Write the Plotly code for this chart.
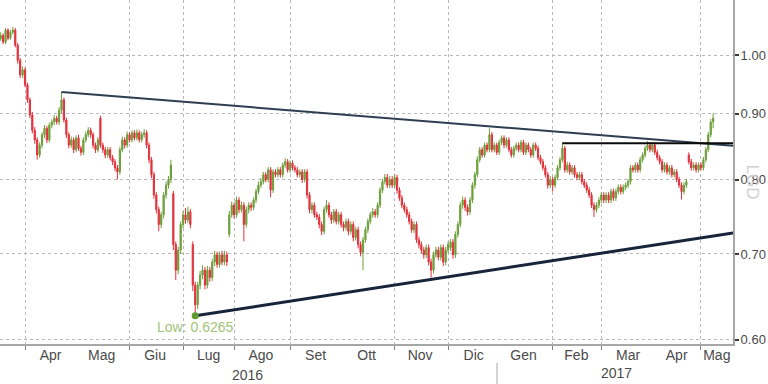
import numpy as np
import pandas as pd
import plotly.graph_objects as go

# ---------------- data ----------------
START = "2016-03-16"
HOLIDAYS = ["2016-03-25", "2016-03-28", "2016-12-26", "2017-04-14", "2017-04-17"]

close_ = [
    1.036, 1.024, 1.046, 1.031, 1.042, 1.046, 1.018, 0.991, 0.965, 0.974,
    0.948, 0.923, 0.898, 0.874, 0.859, 0.836, 0.851, 0.867, 0.877, 0.859,
    0.882, 0.887, 0.893, 0.887, 0.906, 0.923, 0.890, 0.867, 0.851, 0.859,
    0.844, 0.862, 0.846, 0.840, 0.859, 0.867, 0.874, 0.867, 0.851,
    0.844, 0.859, 0.851, 0.844, 0.836, 0.844, 0.832, 0.826, 0.817, 0.811,
    0.844, 0.859, 0.851, 0.867, 0.859, 0.870, 0.862, 0.870, 0.859, 0.867,
    0.870, 0.851, 0.829, 0.807, 0.778, 0.758, 0.738, 0.751, 0.778, 0.792,
    0.800, 0.821, 0.712, 0.680, 0.705, 0.738, 0.751, 0.744, 0.755, 0.738,
    0.662, 0.639, 0.662, 0.674, 0.680, 0.662, 0.680, 0.671, 0.690, 0.699,
    0.687, 0.699, 0.690, 0.699, 0.690, 0.751, 0.764, 0.751, 0.771, 0.758,
    0.764, 0.738, 0.758, 0.764, 0.761, 0.771, 0.783, 0.792, 0.797, 0.807,
    0.800, 0.814, 0.785, 0.811, 0.807, 0.814, 0.807, 0.821, 0.826,
    0.814, 0.824, 0.817, 0.814, 0.807, 0.811, 0.800, 0.811, 0.778, 0.758,
    0.764, 0.751, 0.748, 0.738, 0.729, 0.758, 0.764, 0.751, 0.744, 0.755,
    0.742, 0.751, 0.738, 0.734, 0.742, 0.729, 0.738, 0.721, 0.731, 0.712,
    0.702, 0.718, 0.731, 0.742, 0.751, 0.755, 0.751, 0.764, 0.785, 0.797,
    0.803, 0.792, 0.800, 0.792, 0.803, 0.785, 0.774, 0.764, 0.758, 0.751,
    0.742, 0.731, 0.738, 0.718, 0.712, 0.705, 0.699, 0.708, 0.690, 0.680,
    0.699, 0.705, 0.696, 0.708, 0.690, 0.705, 0.712, 0.715, 0.699,
    0.725, 0.738, 0.764, 0.771, 0.761, 0.755, 0.771, 0.792, 0.807, 0.829,
    0.844, 0.836, 0.851, 0.844, 0.867, 0.844, 0.851, 0.840, 0.855, 0.862,
    0.851, 0.859, 0.844, 0.836, 0.846, 0.851, 0.844, 0.855, 0.840, 0.851,
    0.844, 0.836, 0.851, 0.846, 0.832, 0.826, 0.817, 0.807, 0.792, 0.800,
    0.792, 0.803, 0.817, 0.829, 0.846, 0.814, 0.821, 0.811, 0.817, 0.807,
    0.803, 0.807, 0.797, 0.792, 0.785, 0.778, 0.764, 0.758, 0.764, 0.771,
    0.778, 0.771, 0.778, 0.771, 0.783, 0.774, 0.783, 0.789, 0.783, 0.789,
    0.792, 0.797, 0.817, 0.814, 0.821, 0.814, 0.829, 0.836, 0.846,
    0.851, 0.844, 0.851, 0.840, 0.832, 0.826, 0.814, 0.821, 0.811, 0.817,
    0.807, 0.811, 0.800, 0.792, 0.783, 0.792, 0.797, 0.826, 0.817, 0.821,
    0.814, 0.821, 0.817, 0.829, 0.844, 0.867, 0.887, 0.893,
]

open_ = [
    1.030, 1.036, 1.024, 1.046, 1.031, 1.042, 1.046, 1.018, 0.991, 0.965,
    0.974, 0.948, 0.923, 0.898, 0.874, 0.859, 0.836, 0.851, 0.867, 0.877,
    0.859, 0.882, 0.887, 0.893, 0.887, 0.906, 0.923, 0.890, 0.867, 0.851,
    0.859, 0.844, 0.862, 0.846, 0.840, 0.859, 0.867, 0.874, 0.867,
    0.851, 0.844, 0.893, 0.851, 0.844, 0.836, 0.844, 0.832, 0.826, 0.817,
    0.811, 0.844, 0.859, 0.851, 0.867, 0.859, 0.870, 0.862, 0.870, 0.859,
    0.867, 0.870, 0.851, 0.829, 0.807, 0.778, 0.758, 0.738, 0.751, 0.778,
    0.792, 0.800, 0.780, 0.712, 0.680, 0.705, 0.738, 0.751, 0.744, 0.755,
    0.712, 0.662, 0.639, 0.662, 0.674, 0.680, 0.662, 0.680, 0.671, 0.690,
    0.699, 0.687, 0.699, 0.690, 0.699, 0.725, 0.751, 0.764, 0.751, 0.771,
    0.758, 0.764, 0.738, 0.758, 0.764, 0.761, 0.771, 0.783, 0.792, 0.797,
    0.807, 0.800, 0.814, 0.785, 0.811, 0.807, 0.814, 0.807, 0.821,
    0.826, 0.814, 0.824, 0.817, 0.814, 0.807, 0.811, 0.800, 0.811, 0.778,
    0.758, 0.764, 0.751, 0.748, 0.738, 0.729, 0.758, 0.764, 0.751, 0.744,
    0.755, 0.742, 0.751, 0.738, 0.734, 0.742, 0.729, 0.738, 0.721, 0.731,
    0.712, 0.702, 0.718, 0.731, 0.742, 0.751, 0.755, 0.751, 0.764, 0.785,
    0.797, 0.803, 0.792, 0.800, 0.792, 0.803, 0.785, 0.774, 0.764, 0.758,
    0.751, 0.742, 0.731, 0.738, 0.718, 0.712, 0.705, 0.699, 0.708, 0.690,
    0.680, 0.699, 0.705, 0.696, 0.708, 0.690, 0.705, 0.708, 0.715,
    0.699, 0.725, 0.738, 0.764, 0.771, 0.761, 0.755, 0.771, 0.792, 0.807,
    0.829, 0.844, 0.836, 0.851, 0.844, 0.867, 0.844, 0.851, 0.840, 0.855,
    0.862, 0.851, 0.859, 0.844, 0.836, 0.846, 0.851, 0.844, 0.855, 0.840,
    0.851, 0.844, 0.836, 0.851, 0.846, 0.832, 0.826, 0.817, 0.807, 0.792,
    0.800, 0.792, 0.803, 0.817, 0.829, 0.846, 0.814, 0.821, 0.811, 0.817,
    0.807, 0.803, 0.807, 0.797, 0.792, 0.785, 0.778, 0.764, 0.758, 0.764,
    0.771, 0.778, 0.771, 0.778, 0.771, 0.783, 0.774, 0.783, 0.789, 0.783,
    0.789, 0.792, 0.797, 0.817, 0.814, 0.821, 0.814, 0.829, 0.836,
    0.846, 0.851, 0.844, 0.851, 0.840, 0.832, 0.826, 0.814, 0.821, 0.811,
    0.817, 0.807, 0.811, 0.800, 0.792, 0.783, 0.792, 0.836, 0.826, 0.817,
    0.821, 0.814, 0.821, 0.817, 0.829, 0.844, 0.867, 0.887,
]

high_ = [
    1.042, 1.040, 1.050, 1.049, 1.046, 1.052, 1.050, 1.022, 0.995, 0.980,
    0.978, 0.952, 0.927, 0.903, 0.879, 0.863, 0.855, 0.871, 0.882, 0.881,
    0.886, 0.891, 0.898, 0.897, 0.911, 0.936, 0.927, 0.894, 0.871, 0.864,
    0.863, 0.866, 0.867, 0.850, 0.863, 0.872, 0.879, 0.878, 0.871,
    0.855, 0.863, 0.897, 0.855, 0.848, 0.848, 0.848, 0.836, 0.830, 0.821,
    0.848, 0.864, 0.863, 0.872, 0.871, 0.874, 0.874, 0.875, 0.874, 0.872,
    0.876, 0.874, 0.855, 0.833, 0.811, 0.782, 0.762, 0.755, 0.782, 0.797,
    0.805, 0.829, 0.784, 0.716, 0.709, 0.742, 0.756, 0.760, 0.762, 0.759,
    0.716, 0.666, 0.666, 0.679, 0.686, 0.684, 0.685, 0.684, 0.694, 0.704,
    0.703, 0.703, 0.704, 0.704, 0.703, 0.756, 0.769, 0.768, 0.776, 0.775,
    0.769, 0.768, 0.762, 0.768, 0.768, 0.775, 0.787, 0.797, 0.802, 0.811,
    0.811, 0.818, 0.818, 0.815, 0.815, 0.818, 0.818, 0.825, 0.831,
    0.830, 0.828, 0.828, 0.821, 0.818, 0.815, 0.815, 0.815, 0.815, 0.782,
    0.768, 0.768, 0.755, 0.752, 0.742, 0.762, 0.771, 0.768, 0.755, 0.759,
    0.759, 0.755, 0.755, 0.742, 0.746, 0.746, 0.742, 0.742, 0.735, 0.735,
    0.716, 0.722, 0.735, 0.746, 0.755, 0.760, 0.759, 0.768, 0.789, 0.801,
    0.808, 0.808, 0.805, 0.805, 0.808, 0.807, 0.789, 0.778, 0.768, 0.762,
    0.755, 0.746, 0.742, 0.742, 0.722, 0.716, 0.709, 0.712, 0.712, 0.694,
    0.703, 0.709, 0.709, 0.712, 0.712, 0.709, 0.716, 0.719, 0.719,
    0.729, 0.742, 0.768, 0.776, 0.775, 0.765, 0.775, 0.796, 0.811, 0.834,
    0.848, 0.848, 0.855, 0.855, 0.877, 0.871, 0.855, 0.855, 0.859, 0.866,
    0.866, 0.863, 0.863, 0.848, 0.850, 0.855, 0.855, 0.859, 0.859, 0.855,
    0.855, 0.848, 0.855, 0.855, 0.850, 0.836, 0.830, 0.821, 0.811, 0.805,
    0.804, 0.807, 0.821, 0.833, 0.855, 0.850, 0.826, 0.825, 0.821, 0.821,
    0.811, 0.811, 0.811, 0.801, 0.796, 0.789, 0.782, 0.768, 0.768, 0.775,
    0.782, 0.782, 0.782, 0.782, 0.787, 0.787, 0.787, 0.793, 0.793, 0.793,
    0.796, 0.801, 0.821, 0.821, 0.825, 0.825, 0.833, 0.840, 0.850,
    0.857, 0.855, 0.855, 0.855, 0.844, 0.836, 0.830, 0.825, 0.825, 0.821,
    0.821, 0.815, 0.815, 0.804, 0.796, 0.796, 0.801, 0.840, 0.830, 0.825,
    0.825, 0.825, 0.825, 0.833, 0.848, 0.871, 0.892, 0.901,
]

low_ = [
    1.026, 1.020, 1.020, 1.027, 1.028, 1.038, 1.014, 0.985, 0.960, 0.960,
    0.944, 0.918, 0.893, 0.869, 0.853, 0.829, 0.832, 0.846, 0.862, 0.854,
    0.855, 0.877, 0.882, 0.883, 0.882, 0.901, 0.886, 0.862, 0.846, 0.847,
    0.839, 0.840, 0.842, 0.835, 0.836, 0.855, 0.863, 0.862, 0.846,
    0.839, 0.840, 0.847, 0.839, 0.831, 0.832, 0.828, 0.821, 0.812, 0.800,
    0.807, 0.840, 0.846, 0.847, 0.855, 0.855, 0.858, 0.858, 0.855, 0.855,
    0.862, 0.846, 0.824, 0.802, 0.773, 0.753, 0.729, 0.733, 0.746, 0.773,
    0.787, 0.795, 0.705, 0.668, 0.675, 0.700, 0.733, 0.739, 0.740, 0.733,
    0.655, 0.6265, 0.634, 0.657, 0.669, 0.657, 0.658, 0.666, 0.667, 0.685,
    0.683, 0.683, 0.686, 0.686, 0.685, 0.721, 0.747, 0.746, 0.747, 0.753,
    0.754, 0.716, 0.734, 0.753, 0.756, 0.757, 0.767, 0.779, 0.788, 0.793,
    0.796, 0.796, 0.775, 0.781, 0.803, 0.803, 0.803, 0.803, 0.817,
    0.810, 0.810, 0.813, 0.810, 0.803, 0.803, 0.795, 0.796, 0.773, 0.753,
    0.753, 0.747, 0.744, 0.733, 0.724, 0.725, 0.754, 0.747, 0.739, 0.740,
    0.738, 0.738, 0.734, 0.729, 0.730, 0.724, 0.725, 0.716, 0.717, 0.707,
    0.697, 0.680, 0.714, 0.727, 0.738, 0.747, 0.747, 0.747, 0.760, 0.781,
    0.793, 0.788, 0.788, 0.788, 0.788, 0.780, 0.770, 0.760, 0.754, 0.747,
    0.738, 0.727, 0.727, 0.714, 0.707, 0.701, 0.694, 0.695, 0.686, 0.671,
    0.676, 0.695, 0.692, 0.692, 0.685, 0.686, 0.701, 0.704, 0.694,
    0.695, 0.721, 0.734, 0.759, 0.756, 0.750, 0.751, 0.767, 0.787, 0.803,
    0.825, 0.832, 0.832, 0.840, 0.840, 0.840, 0.840, 0.836, 0.836, 0.851,
    0.846, 0.847, 0.840, 0.832, 0.832, 0.842, 0.840, 0.840, 0.836, 0.836,
    0.840, 0.832, 0.832, 0.842, 0.828, 0.822, 0.813, 0.803, 0.787, 0.788,
    0.783, 0.788, 0.799, 0.813, 0.825, 0.810, 0.810, 0.807, 0.807, 0.803,
    0.799, 0.799, 0.793, 0.788, 0.781, 0.774, 0.760, 0.748, 0.754, 0.760,
    0.767, 0.767, 0.767, 0.767, 0.767, 0.770, 0.770, 0.779, 0.779, 0.779,
    0.785, 0.788, 0.793, 0.810, 0.810, 0.810, 0.810, 0.825, 0.832,
    0.842, 0.840, 0.840, 0.836, 0.828, 0.822, 0.810, 0.810, 0.807, 0.807,
    0.803, 0.803, 0.796, 0.788, 0.772, 0.779, 0.788, 0.822, 0.813, 0.813,
    0.810, 0.810, 0.813, 0.813, 0.825, 0.840, 0.863, 0.877,
]

MONTH_LABELS = ["Apr", "Mag", "Giu", "Lug", "Ago", "Set", "Ott", "Nov", "Dic",
                "Gen", "Feb", "Mar", "Apr", "Mag"]
MONTH_LABEL_DATES = ["2016-04-15 12:00", "2016-05-16 12:00", "2016-06-15 12:00",
                     "2016-07-15 12:00", "2016-08-16 00:00", "2016-09-15 12:00",
                     "2016-10-14 12:00", "2016-11-15 12:00", "2016-12-15 12:00",
                     "2017-01-16 00:00", "2017-02-14 18:00", "2017-03-16 00:00",
                     "2017-04-13 00:00", "2017-05-09 12:00"]
MONTH_STARTS = ["2016-04-01", "2016-05-01", "2016-06-01", "2016-07-01", "2016-08-01",
                "2016-09-01", "2016-10-01", "2016-11-01", "2016-12-01", "2017-01-01",
                "2017-02-01", "2017-03-01", "2017-04-01", "2017-05-01"]
YEAR_LABELS = ["2016", "2017"]
Y_TICKS = [0.60, 0.70, 0.80, 0.90, 1.00]

LOW_VALUE = 0.6265
UPPER_LINE_END = 0.850
LOWER_LINE_END = 0.727
RESIST_LEVEL = 0.854
X_RANGE = ["2016-03-15 17:00", "2017-05-18 04:00"]
Y_RANGE = [0.5956, 1.104]

# ---------------- build ----------------
n = len(close_)
if not (len(open_) == len(high_) == len(low_) == n):
    raise SystemExit(f"length mismatch {len(open_)} {len(high_)} {len(low_)} {n}")

bd = pd.bdate_range(START, periods=420)
bd = bd[~bd.isin(pd.to_datetime(HOLIDAYS))]
dates = bd[:n]

low_idx = int(np.argmin(low_))
peak_idx = 20 + int(np.argmax(high_[20:40]))
res_idx = 225 + int(np.argmax(high_[225:240]))

GREEN = "#6c9e3a"
RED = "#e2313b"
FONT = "Liberation Sans Narrow, Arial Narrow, Liberation Sans, Arial, sans-serif"
TXT = "#4a4a4a"

fig = go.Figure()
fig.add_trace(go.Candlestick(
    x=dates, open=open_, high=high_, low=low_, close=close_,
    increasing=dict(line=dict(color=GREEN, width=1), fillcolor=GREEN),
    decreasing=dict(line=dict(color=RED, width=1), fillcolor=RED),
    whiskerwidth=0, showlegend=False, hoverinfo="skip"))

# trend lines
fig.add_trace(go.Scatter(x=[dates[peak_idx], X_RANGE[1]], y=[high_[peak_idx], UPPER_LINE_END],
                         mode="lines", line=dict(color="#2e3e50", width=2),
                         showlegend=False, hoverinfo="skip"))
fig.add_trace(go.Scatter(x=[dates[res_idx], X_RANGE[1]], y=[RESIST_LEVEL, RESIST_LEVEL],
                         mode="lines", line=dict(color="#0a0a0a", width=2),
                         showlegend=False, hoverinfo="skip"))
fig.add_trace(go.Scatter(x=[dates[low_idx], X_RANGE[1]], y=[LOW_VALUE, LOWER_LINE_END],
                         mode="lines", line=dict(color="#17243a", width=3),
                         showlegend=False, hoverinfo="skip"))
fig.add_trace(go.Scatter(x=[dates[low_idx]], y=[LOW_VALUE], mode="markers",
                         marker=dict(color="#5f9a2e", size=7),
                         showlegend=False, hoverinfo="skip"))

fig.add_annotation(x=dates[low_idx], y=np.log10(LOW_VALUE), xref="x", yref="y",
                   text=f"Low: {LOW_VALUE}", showarrow=False, yshift=-11,
                   xanchor="center", yanchor="middle",
                   font=dict(family=FONT, size=14, color="#a2c27a"))

# year labels and separator
plot_w = 733
fig.add_annotation(x=247 / plot_w, y=-0.09, xref="paper", yref="paper", text=YEAR_LABELS[0],
                   showarrow=False, xanchor="center", yanchor="middle",
                   font=dict(family=FONT, size=14, color=TXT))
fig.add_annotation(x=616 / plot_w, y=-0.085, xref="paper", yref="paper", text=YEAR_LABELS[1],
                   showarrow=False, xanchor="center", yanchor="middle",
                   font=dict(family=FONT, size=14, color=TXT))
fig.add_shape(type="line", xref="paper", yref="paper", x0=497 / plot_w, x1=497 / plot_w,
              y0=-0.055, y1=-0.12, line=dict(color="#a8a8a8", width=1))

# faint vertical label at right
fig.add_annotation(x=1.027, y=0.47, xref="paper", yref="paper", text="LGD",
                   showarrow=False, textangle=90, xanchor="center", yanchor="middle",
                   font=dict(family="Liberation Sans, sans-serif", size=17, color="#cfcfcf"))

fig.update_layout(
    width=768, height=384,
    margin=dict(l=0, r=35, t=0, b=40),
    paper_bgcolor="white", plot_bgcolor="white",
    font=dict(family=FONT, size=14, color=TXT),
    xaxis=dict(
        type="date", range=X_RANGE,
        rangebreaks=[dict(bounds=["sat", "mon"]), dict(values=HOLIDAYS)],
        tickmode="array", tickvals=MONTH_LABEL_DATES, ticktext=MONTH_LABELS,
        ticks="", showgrid=False, zeroline=False, ticklabelstandoff=-3,
        showline=True, linecolor="#a6a6a6", linewidth=2,
        rangeslider=dict(visible=False),
        tickfont=dict(family=FONT, size=14, color=TXT),
        minor=dict(tickmode="array", tickvals=MONTH_STARTS, showgrid=True,
                   gridcolor="#b8b8b8", griddash="dot", gridwidth=1,
                   ticks="outside", ticklen=4, tickcolor="#808080", tickwidth=1),
    ),
    yaxis=dict(
        type="log", side="right",
        range=[np.log10(Y_RANGE[0]), np.log10(Y_RANGE[1])],
        tickmode="array", tickvals=Y_TICKS, ticktext=[f"{v:.2f}" for v in Y_TICKS],
        ticks="outside", ticklen=4, tickwidth=2, tickcolor="#3a3a3a",
        ticklabelstandoff=-1,
        showgrid=True, gridcolor="#b8b8b8", griddash="dot", gridwidth=1,
        showline=True, linecolor="#a6a6a6", linewidth=2, zeroline=False,
        tickfont=dict(family=FONT, size=13, color=TXT),
    ),
)

fig.write_html("out.html",
               config={"displayModeBar": False, "staticPlot": True},
               post_script="document.body.style.margin='0';"
                           "document.body.style.overflow='hidden';")
